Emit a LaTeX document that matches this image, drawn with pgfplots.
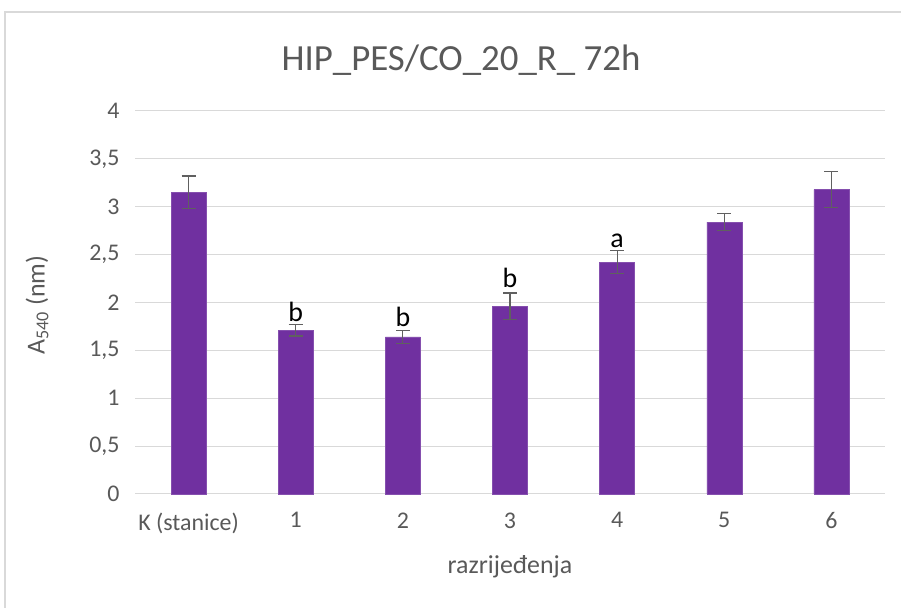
\documentclass[border=0pt]{standalone}
\usepackage{fontspec}
\setmainfont{Carlito}
\usepackage{pgfplots}
\pgfplotsset{compat=1.18}
\definecolor{barpurple}{HTML}{7030A0}
\definecolor{gridgray}{HTML}{D9D9D9}
\definecolor{textgray}{HTML}{595959}
\definecolor{errgray}{HTML}{606060}
\begin{document}
\begin{tikzpicture}[x=1bp,y=1bp]
\path[use as bounding box] (0,0) rectangle (901,608);
\draw[gridgray, line width=1.5bp] (5,0) -- (5,596) -- (901,596);
\node[textgray, font=\fontsize{37}{42}\selectfont] at (461,548) {HIP\_PES/CO\_20\_R\_ 72h};
\node[textgray, font=\fontsize{26}{30}\selectfont, rotate=90] at (37,303) {A\textsubscript{540} (nm)};
\node[textgray, font=\fontsize{26}{30}\selectfont] at (510,41) {razrijeđenja};
\begin{axis}[
  at={(135bp,114bp)}, anchor=south west,
  scale only axis, width=750bp, height=383bp,
  xmin=-0.5, xmax=6.5, ymin=0, ymax=4,
  ytick={0,0.5,...,4},
  xtick={0,1,2,3,4,5,6},
  xticklabels={K (stanice),1,2,3,4,5,6},
  axis line style={draw=none},
  major tick length=0pt,
  ymajorgrids, grid style={gridgray, line width=1bp},
  /pgf/number format/use comma,
  /pgf/number format/assume math mode=true,
  ticklabel style={font=\fontsize{24}{28}\selectfont, text=textgray},
  yticklabel style={xshift=-12bp},
  xticklabel style={yshift=-15bp},
  clip=false,
]
\addplot[ybar, bar width=35bp, fill=barpurple, draw=barpurple!85!white,
  error bars/.cd, y dir=both, y explicit,
  error bar style={errgray, line width=1.2bp},
  error mark options={rotate=90, errgray, mark size=7bp, line width=1.2bp}]
  table[x=x, y=y, y error=e] {
x y e
0 3.15 0.17
1 1.71 0.06
2 1.64 0.07
3 1.96 0.14
4 2.42 0.12
5 2.84 0.09
6 3.18 0.19
};
\node[anchor=south, inner sep=2bp, font=\fontsize{28}{32}\selectfont] at (axis cs:1,1.78) {b};
\node[anchor=south, inner sep=2bp, font=\fontsize{28}{32}\selectfont] at (axis cs:2,1.72) {b};
\node[anchor=south, inner sep=2bp, font=\fontsize{28}{32}\selectfont] at (axis cs:3,2.13) {b};
\node[anchor=south, inner sep=2bp, font=\fontsize{28}{32}\selectfont] at (axis cs:4,2.55) {a};
\end{axis}
\end{tikzpicture}
\end{document}
